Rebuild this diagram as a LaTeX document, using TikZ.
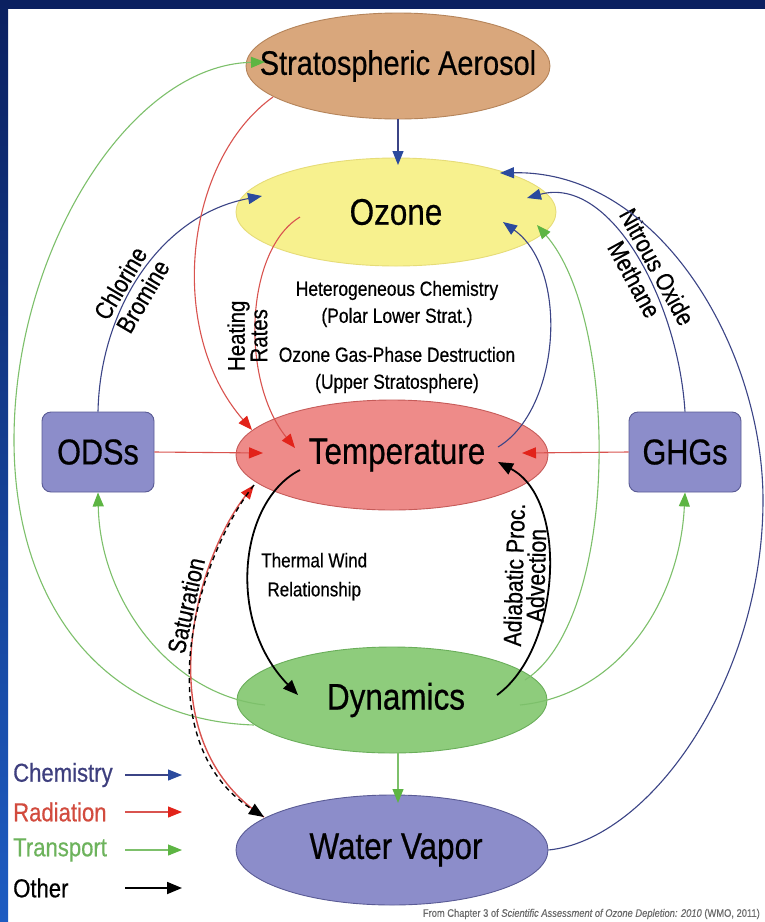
\documentclass[tikz,border=0pt]{standalone}
\usepackage{fontspec}
\setmainfont{Liberation Sans}[FakeStretch=0.85,FakeBold=0.5]
\usetikzlibrary{shapes.geometric,arrows.meta,positioning}

\definecolor{frameblue}{HTML}{0B2060}
\definecolor{framelight}{HTML}{1D5CC2}
\definecolor{aerofill}{HTML}{D9A77C}
\definecolor{aeroline}{HTML}{B5845A}
\definecolor{ozfill}{HTML}{F7F18E}
\definecolor{ozline}{HTML}{E6DC78}
\definecolor{tempfill}{HTML}{EE8B89}
\definecolor{templine}{HTML}{C65B59}
\definecolor{dynfill}{HTML}{8ECC7C}
\definecolor{dynline}{HTML}{6AAE5A}
\definecolor{purplefill}{HTML}{8C8DCA}
\definecolor{purpleline}{HTML}{5A5B95}
\definecolor{chemline}{HTML}{3B4486}
\definecolor{chemtip}{HTML}{2B4A9E}
\definecolor{radline}{HTML}{D9534F}
\definecolor{radtip}{HTML}{E2231A}
\definecolor{transline}{HTML}{7DC06B}
\definecolor{transtip}{HTML}{5DB543}
\definecolor{legchem}{HTML}{3E3F7E}
\definecolor{legrad}{HTML}{D24B3E}
\definecolor{legtrans}{HTML}{6DB35C}
\definecolor{captgray}{HTML}{6B6B6B}

\newcommand{\ntext}[1]{\makebox[0pt]{#1}}

\tikzset{
  blob/.style={ellipse, line width=0.9pt, inner sep=0pt, font=\fontsize{37}{40}\selectfont},
  boxnode/.style={rectangle, rounded corners=9pt, draw=purpleline, fill=purplefill,
    line width=0.9pt, minimum width=112pt, minimum height=80pt, inner sep=0pt,
    font=\fontsize{36}{40}\selectfont},
  midtxt/.style={align=center, font=\fontsize{20.5}{27}\selectfont},
  lbl/.style={align=center, inner sep=2pt, font=\fontsize{25}{24}\selectfont},
  legtxt/.style={anchor=west, inner sep=0pt, font=\fontsize{26}{28}\selectfont},
  chem/.style={draw=chemline, line width=1.1pt, >={Triangle[length=14pt,width=11pt,color=chemtip]}, ->},
  rad/.style={draw=radline, line width=1.1pt, >={Triangle[length=14pt,width=11pt,color=radtip]}, ->},
  trans/.style={draw=transline, line width=1.1pt, >={Triangle[length=14pt,width=11pt,color=transtip]}, ->},
  other/.style={draw=black, line width=1.8pt, >={Triangle[length=15pt,width=12pt]}, ->},
}

\begin{document}
\begin{tikzpicture}[x=1pt,y=-1pt]
  % frame
  \useasboundingbox (0,0) rectangle (765,922);
  \fill[white] (0,0) rectangle (765,922);
  \fill[frameblue] (0,0) rectangle (765,9);
  \shade[top color=frameblue, bottom color=framelight] (0,0) rectangle (8,922);

  % main nodes
  \node[blob, fill=aerofill, draw=aeroline, minimum width=304pt, minimum height=106pt,
    font=\fontsize{34}{38}\selectfont] (aerosol) at (398,66) {\ntext{Stratospheric Aerosol}};
  \node[blob, fill=ozfill, draw=ozline, minimum width=320pt, minimum height=108pt] (ozone) at (396,212) {\ntext{Ozone}};
  \node[blob, fill=tempfill, draw=templine, minimum width=312pt, minimum height=110pt] (temp) at (392,455) {\ntext{\hspace*{10pt}Temperature}};
  \node[blob, fill=dynfill, draw=dynline, minimum width=310pt, minimum height=106pt] (dyn) at (392,700) {\ntext{\hspace*{8pt}Dynamics}};
  \node[blob, fill=purplefill, draw=purpleline, minimum width=312pt, minimum height=110pt] (vapor) at (392,850) {\ntext{\hspace*{8pt}Water Vapor}};
  \node[boxnode] (odss) at (98,452) {ODSs};
  \node[boxnode] (ghgs) at (685,452) {GHGs};

  \node[midtxt] (hetchem) at (397,304) {Heterogeneous Chemistry\\(Polar Lower Strat.)};
  \node[midtxt] (gasphase) at (397,370) {Ozone Gas-Phase Destruction\\(Upper Stratosphere)};

  % chemistry
  \draw[chem] (aerosol.south) -- ([shift={(2,-47)}]ozone.center);
  \draw[chem] (odss.north) .. controls (100,310) and (160,215) .. ([shift={(-134,-16)}]ozone.center)
    node[pos=0.43, sloped, lbl, font=\fontsize{25}{26}\selectfont] {Chlorine\\Bromine};
  \draw[chem] (ghgs.north) .. controls (678,300) and (610,175) .. ([shift={(131,-14)}]ozone.center)
    node[pos=0.43, sloped, lbl, font=\fontsize{25}{26}\selectfont] {Nitrous Oxide\\Methane};
  \draw[chem] ([shift={(106,-8)}]temp.center) .. controls (560,410) and (570,270) .. ([shift={(107,10)}]ozone.center);
  \draw[chem] (vapor.east) .. controls (650,840) and (763,680) .. (763,500)
    .. controls (763,350) and (660,170) .. ([shift={(104,-39)}]ozone.center);

  % radiation
  \draw[rad] ([shift={(-125,31)}]aerosol.center) .. controls (185,160) and (165,330) .. ([shift={(-140,-25)}]temp.center);
  \draw[rad] ([shift={(-96,5)}]ozone.center) .. controls (245,250) and (240,380) .. ([shift={(-97,-7)}]temp.center)
    node[pos=0.56, xshift=-9pt, rotate=90, lbl, font=\fontsize{24}{20}\selectfont] {Heating\\Rates};
  \draw[rad] (odss.east) -- ([shift={(-129,-2)}]temp.center);
  \draw[rad] (ghgs.west) -- ([shift={(130,-2)}]temp.center);

  % transport
  \draw[trans] ([shift={(133,-20)}]dyn.center) .. controls (620,620) and (620,320) .. ([shift={(141,13)}]ozone.center);
  \draw[trans] ([shift={(128,5)}]dyn.center) .. controls (620,695) and (680,600) .. (ghgs.south);
  \draw[trans] ([shift={(-127,5)}]dyn.center) .. controls (170,695) and (100,600) .. (odss.south);
  \draw[trans] ([shift={(-138,25)}]dyn.center) .. controls (100,720) and (14,600) .. (14,440)
    .. controls (14,250) and (130,65) .. ([shift={(-133,-4)}]aerosol.center);
  \draw[trans] ([shift={(6,53)}]dyn.center) -- ([shift={(6,-47)}]vapor.center);

  % other
  \draw[other] ([shift={(-92,15)}]temp.center) .. controls (240,500) and (225,620) .. ([shift={(-94,-5)}]dyn.center)
    node[pos=0.5, anchor=west, xshift=8pt, yshift=-11pt, midtxt, font=\fontsize{20}{29}\selectfont] {Thermal Wind\\Relationship};
  \draw[other] ([shift={(105,-5)}]dyn.center) .. controls (560,650) and (570,500) .. ([shift={(106,7)}]temp.center)
    node[pos=0.5, sloped, above, lbl, font=\fontsize{25}{22}\selectfont] {Adiabatic Proc.\\Advection};
  \draw[rad, line width=1.4pt, <-] ([shift={(-138,30)}]temp.center) .. controls (195,560) and (145,740) .. ([shift={(-128,-33)}]vapor.center);
  \draw[other, line width=1.4pt, dash pattern=on 5pt off 4pt] ([shift={(-138,30)}]temp.center) .. controls (195,560) and (145,740) .. ([shift={(-128,-33)}]vapor.center)
    node[pos=0.39, sloped, above=1pt, lbl] {Saturation};

  % legend
  \node[legtxt, text=legchem] (legchem) at (13,775) {Chemistry};
  \node[legtxt, text=legrad] (legrad) at (13,812) {Radiation};
  \node[legtxt, text=legtrans] (legtrans) at (13,850) {Transport};
  \node[legtxt, text=black] (legother) at (13,888) {Other};
  \coordinate (chem-s) at (125,775);  \coordinate (chem-e) at (182,775);
  \coordinate (rad-s) at (125,812);   \coordinate (rad-e) at (182,812);
  \coordinate (trans-s) at (125,850); \coordinate (trans-e) at (182,850);
  \coordinate (other-s) at (125,888); \coordinate (other-e) at (182,888);
  \draw[chem] (chem-s) -- (chem-e);
  \draw[rad] (rad-s) -- (rad-e);
  \draw[trans] (trans-s) -- (trans-e);
  \draw[other] (other-s) -- (other-e);

  \node[anchor=east, text=captgray, inner sep=0pt, font=\fontsize{11}{12}\selectfont] (source) at (760,914)
    {From Chapter 3 of \textit{Scientific Assessment of Ozone Depletion: 2010} (WMO, 2011)};
\end{tikzpicture}
\end{document}
